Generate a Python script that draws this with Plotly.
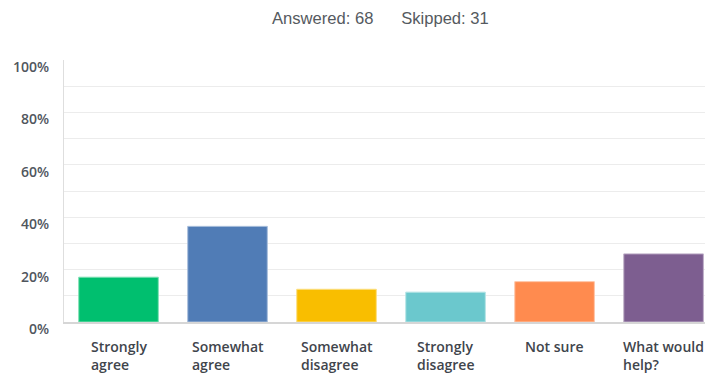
import plotly.graph_objects as go

categories = ["Strongly<br>agree", "Somewhat<br>agree", "Somewhat<br>disagree",
              "Strongly<br>disagree", "Not sure", "What would<br>help?"]
values = [0.171, 0.365, 0.125, 0.114, 0.154, 0.260]
colors = ["#00bf6f", "#507cb6", "#f9be00", "#6bc8cd", "#ff8b4f", "#7d5e90"]
edge_colors = ["#7fe0b4", "#a8bedb", "#fcdf80", "#b5e4e6", "#ffc5a7", "#bfafc8"]
ytick_vals = [0, 0.2, 0.4, 0.6, 0.8, 1.0]
ytick_text = ["0%", "20%", "40%", "60%", "80%", "100%"]
answered = 68
skipped = 31

x_idx = list(range(len(categories)))

fig = go.Figure()
fig.add_trace(go.Bar(
    x=x_idx, y=values,
    marker=dict(color=colors, line=dict(color=edge_colors, width=1)),
    hoverinfo="skip",
))

annotations = []
for i, lab in enumerate(categories):
    annotations.append(dict(
        x=i, y=0, xref="x", yref="paper", xanchor="center", yanchor="top",
        yshift=-13, text=lab, align="left", showarrow=False,
        font=dict(family="Open Sans, sans-serif", size=14, color="#3f454c", weight=600),
    ))
annotations.append(dict(
    x=0.493, y=1.16, xref="paper", yref="paper", xanchor="center", yanchor="middle",
    text=f"Answered: {answered}\u00a0\u00a0\u00a0\u00a0\u00a0\u00a0Skipped: {skipped}",
    showarrow=False,
    font=dict(family="Liberation Sans, Arial, sans-serif", size=16.6, color="#555a60"),
))

fig.update_layout(
    width=705, height=373,
    margin=dict(l=64, r=0, t=60, b=51, pad=0),
    paper_bgcolor="white", plot_bgcolor="white",
    showlegend=False,
    bargap=0.27,
    annotations=annotations,
    xaxis=dict(
        range=[-0.5, 5.38], showticklabels=False, showgrid=False, zeroline=False,
        showline=True, linecolor="#d6d6d6", linewidth=2, ticks="",
        fixedrange=True,
    ),
    yaxis=dict(
        range=[0, 1.0], tickvals=ytick_vals, ticktext=ytick_text,
        showgrid=True, gridcolor="#ececec", gridwidth=1,
        minor=dict(dtick=0.1, showgrid=True, gridcolor="#ececec", gridwidth=1),
        zeroline=False, showline=True, linecolor="#dedede", linewidth=1,
        ticks="", ticklabelstandoff=11, ticklabelshift=7,
        tickfont=dict(family="Open Sans, sans-serif", size=14, color="#50565d", weight=600),
        fixedrange=True,
    ),
)

fig.write_html("out.html", config={"displayModeBar": False})
